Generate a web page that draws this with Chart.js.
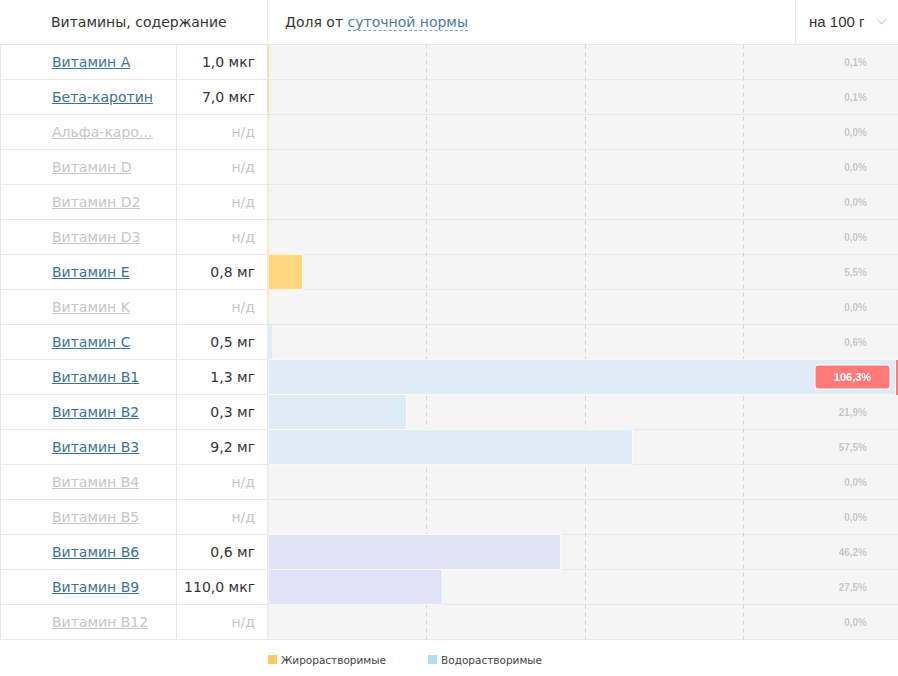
<!DOCTYPE html>
<html>
<head>
<meta charset="utf-8">
<script src="https://cdn.jsdelivr.net/npm/chart.js@4.4.1/dist/chart.umd.min.js"></script>
<style>
  body { margin: 0; width: 898px; height: 676px; overflow: hidden; background: #fff; font-family: 'DejaVu Sans', sans-serif; position: relative; }
  .abs { position: absolute; }
  .head { left: 0; top: 0; width: 898px; height: 44px; border-bottom: 1px solid #e6e6e6; }
  .hcell { position: absolute; top: 0; height: 44px; line-height: 44px; font-size: 14px; color: #333; white-space: nowrap; }
  .dash { color: #4a7d9b; border-bottom: 1px dashed #7fa3b8; }
  .chev { position: absolute; left: 878px; top: 16px; width: 6px; height: 6px; border-right: 1px solid #cfcfcf; border-bottom: 1px solid #cfcfcf; transform: rotate(45deg); }
  .row { position: absolute; left: 0; width: 898px; height: 34px; border-bottom: 1px solid #e8e8e8; }
  .name { position: absolute; left: 0; top: 0; width: 125px; height: 34px; line-height: 34px; padding-left: 51px; border-left: 1px solid #e8e8e8; font-size: 14px; white-space: nowrap; }
  .name span { color: #3b7393; text-decoration: underline; }
  .name.off span { color: #c6c6c6; }
  .val { position: absolute; left: 176px; top: 0; width: 78px; height: 34px; line-height: 34px; padding-right: 12px; border-left: 1px solid #e8e8e8; text-align: right; font-size: 14px; color: #333; white-space: nowrap; }
  .val.off { color: #c6c6c6; }
  .cell { position: absolute; left: 267px; top: 0; width: 630px; height: 34px; border-left: 1px solid #e8e8e8; background: #f5f5f5; }
  .leg { top: 650px; height: 20px; line-height: 20px; font-size: 10.5px; color: #444; white-space: nowrap; }
  .sq { top: 655px; width: 9px; height: 9px; }
  #wrap { position: absolute; left: 268px; top: 44px; width: 634px; height: 596px; }
</style>
</head>
<body>
<div class="abs head">
  <div class="hcell" style="left:51px;">Витамины, содержание</div>
  <div class="hcell" style="left:267px; width:0; border-left:1px solid #e6e6e6;"></div>
  <div class="hcell" style="left:285px;">Доля от <span class="dash">суточной нормы</span></div>
  <div class="hcell" style="left:795px; width:0; border-left:1px solid #e6e6e6;"></div>
  <div class="hcell" style="left:809px; font-family:'Liberation Sans', sans-serif; font-size:15px;">на 100 г</div>
  <div class="chev"></div>
</div>
<div id="rows"></div>
<div id="wrap"><canvas id="chart"></canvas></div>
<div class="abs sq" style="left:268px; background:#fec95d;"></div>
<div class="abs leg" style="left:281px;">Жирорастворимые</div>
<div class="abs sq" style="left:428px; background:#b4dcf2;"></div>
<div class="abs leg" style="left:441px;">Водорастворимые</div>
<script>
const names = ['Витамин A', 'Бета-каротин', 'Альфа-каро…', 'Витамин D', 'Витамин D2', 'Витамин D3', 'Витамин E', 'Витамин K', 'Витамин C', 'Витамин B1', 'Витамин B2', 'Витамин B3', 'Витамин B4', 'Витамин B5', 'Витамин B6', 'Витамин B9', 'Витамин B12'];
const amounts = ['1,0 мкг', '7,0 мкг', 'н/д', 'н/д', 'н/д', 'н/д', '0,8 мг', 'н/д', '0,5 мг', '1,3 мг', '0,3 мг', '9,2 мг', 'н/д', 'н/д', '0,6 мг', '110,0 мкг', 'н/д'];
const percents = [0.1, 0.1, 0, 0, 0, 0, 5.5, 0, 0.6, 106.3, 21.9, 57.5, 0, 0, 46.2, 27.5, 0];
const kinds = ['fat', 'fat', 'fat', 'fat', 'fat', 'fat', 'fat', 'fat', 'water', 'water', 'water', 'water', 'water', 'water', 'b', 'b', 'b'];

const kindColors = { fat: '#fed67f', water: '#ddecf5', b: '#e1e2f5' };

// table rows (html)
const rowsEl = document.getElementById('rows');
names.forEach((n, i) => {
  const off = amounts[i] === 'н/д';
  const r = document.createElement('div');
  r.className = 'row';
  r.style.top = (45 + i * 35) + 'px';
  r.innerHTML =
    '<div class="name' + (off ? ' off' : '') + '"><span>' + n + '</span></div>' +
    '<div class="val' + (off ? ' off' : '') + '">' + amounts[i] + '</div>' +
    '<div class="cell"></div>';
  rowsEl.appendChild(r);
});

const fmt = (v) => v.toFixed(1).replace('.', ',') + '%';

const labelsPlugin = {
  id: 'pctLabels',
  afterDatasetsDraw(chart) {
    const { ctx } = chart;
    const xs = chart.scales.x;
    const ys = chart.scales.y;
    ctx.save();
    ctx.font = 'bold 10px "Liberation Sans", Arial, sans-serif';
    ctx.textBaseline = 'middle';
    percents.forEach((v, i) => {
      const y = ys.getPixelForValue(i);
      if (v > 100) {
        // red marker at the edge and a red badge
        const edge = xs.getPixelForValue(100) - 6;
        ctx.fillStyle = '#fff';
        ctx.fillRect(edge - 1, y - 17, 1, 35);
        ctx.fillStyle = '#ff7a7a';
        ctx.fillRect(edge, y - 17, 6, 35);
        const bx = 547, bw = 75, bh = 24;
        ctx.beginPath();
        ctx.roundRect(bx, y - bh / 2, bw, bh, 3);
        ctx.fillStyle = '#ff7b7b';
        ctx.fill();
        ctx.strokeStyle = '#fff';
        ctx.lineWidth = 1;
        ctx.stroke();
        ctx.fillStyle = '#fff';
        ctx.textAlign = 'center';
        ctx.font = 'bold 11px "Liberation Sans", Arial, sans-serif';
        ctx.fillText(fmt(v), bx + bw / 2, y + 0.5);
        ctx.font = 'bold 10px "Liberation Sans", Arial, sans-serif';
      } else {
        ctx.fillStyle = '#c6c6c6';
        ctx.textAlign = 'right';
        ctx.fillText(fmt(v), 599, y + 1);
      }
    });
    ctx.restore();
  },
};

new Chart(document.getElementById('chart'), {
  type: 'bar',
  data: {
    labels: names,
    datasets: [
      {
        data: percents,
        backgroundColor: kinds.map((k) => kindColors[k]),
        borderColor: '#fff',
        borderWidth: (c) => (c.raw < 1 ? 0 : 1),
        barThickness: 36,
      },
    ],
  },
  options: {
    indexAxis: 'y',
    responsive: true,
    maintainAspectRatio: false,
    animation: false,
    devicePixelRatio: 1,
    layout: { padding: { top: 0.5, bottom: 0.5, left: 0, right: 0 } },
    scales: {
      x: {
        min: 0,
        max: 100,
        ticks: { display: false, stepSize: 25 },
        border: { display: false, dash: [4, 4] },
        grid: {
          drawTicks: false,
          color: (c) => ([25, 50, 75].includes(c.tick && c.tick.value) ? '#d3d3d3' : 'rgba(0,0,0,0)'),
        },
      },
      y: { display: false },
    },
    plugins: {
      legend: { display: false },
      tooltip: { enabled: false },
    },
  },
  plugins: [labelsPlugin],
});
</script>
</body>
</html>
